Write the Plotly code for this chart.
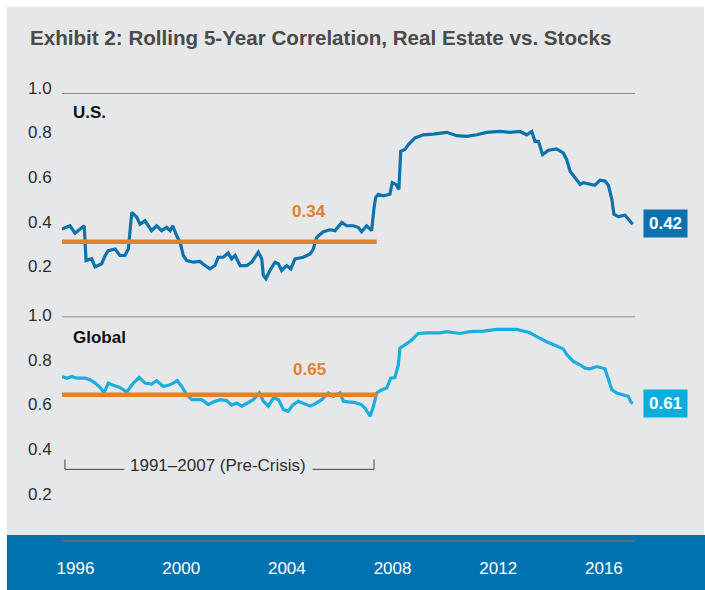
import plotly.graph_objects as go

# ---------------- data ----------------
us_years = [1995.48, 1995.79, 1995.98, 1996.23, 1996.33, 1996.40, 1996.61, 1996.74, 1996.99, 1997.12,
            1997.24, 1997.50, 1997.68, 1997.87, 1998.00, 1998.13, 1998.32, 1998.44, 1998.63, 1998.88,
            1999.07, 1999.26, 1999.45, 1999.58, 1999.68, 1999.83, 1999.96, 2000.08, 2000.21, 2000.46,
            2000.71, 2000.90, 2001.09, 2001.28, 2001.40, 2001.59, 2001.78, 2001.91, 2002.04, 2002.23,
            2002.48, 2002.67, 2002.92, 2003.05, 2003.11, 2003.21, 2003.36, 2003.55, 2003.68, 2003.80,
            2003.99, 2004.15, 2004.31, 2004.62, 2004.88, 2005.00, 2005.13, 2005.38, 2005.63, 2005.82,
            2006.08, 2006.26, 2006.51, 2006.70, 2006.83, 2007.02, 2007.21, 2007.30, 2007.36, 2007.46,
            2007.65, 2007.90, 2007.99, 2008.13, 2008.24, 2008.31, 2008.47, 2008.60, 2008.85, 2009.16,
            2009.54, 2010.05, 2010.43, 2010.81, 2011.19, 2011.56, 2012.07, 2012.45, 2012.82, 2013.08,
            2013.27, 2013.39, 2013.52, 2013.68, 2013.90, 2014.21, 2014.46, 2014.59, 2014.72, 2014.91,
            2015.10, 2015.22, 2015.47, 2015.66, 2015.85, 2016.04, 2016.17, 2016.30, 2016.38, 2016.55,
            2016.80, 2016.92, 2017.09]
us_corr = [0.391, 0.406, 0.373, 0.400, 0.406, 0.250, 0.258, 0.222, 0.236, 0.272,
           0.295, 0.302, 0.273, 0.273, 0.302, 0.466, 0.444, 0.413, 0.428, 0.384,
           0.406, 0.384, 0.399, 0.384, 0.406, 0.361, 0.332, 0.273, 0.250, 0.243,
           0.246, 0.228, 0.213, 0.228, 0.265, 0.265, 0.284, 0.258, 0.273, 0.228,
           0.228, 0.243, 0.288, 0.258, 0.184, 0.169, 0.206, 0.243, 0.236, 0.206,
           0.228, 0.213, 0.258, 0.265, 0.280, 0.302, 0.354, 0.379, 0.388, 0.384,
           0.421, 0.406, 0.406, 0.399, 0.379, 0.406, 0.384, 0.487, 0.532, 0.547,
           0.540, 0.547, 0.599, 0.591, 0.569, 0.739, 0.747, 0.769, 0.799, 0.813,
           0.816, 0.824, 0.809, 0.806, 0.813, 0.824, 0.828, 0.824, 0.828, 0.813,
           0.828, 0.784, 0.784, 0.724, 0.744, 0.750, 0.732, 0.702, 0.650, 0.621,
           0.591, 0.599, 0.591, 0.587, 0.610, 0.606, 0.587, 0.524, 0.458, 0.447,
           0.453, 0.436, 0.413]

gl_years = [1995.48, 1995.67, 1995.86, 1996.05, 1996.36, 1996.55, 1996.74, 1996.93, 1997.08, 1997.24,
            1997.43, 1997.68, 1997.94, 1998.19, 1998.41, 1998.63, 1998.88, 1999.07, 1999.32, 1999.51,
            1999.70, 1999.85, 2000.02, 2000.21, 2000.40, 2000.59, 2000.78, 2001.03, 2001.22, 2001.47,
            2001.72, 2001.91, 2002.10, 2002.29, 2002.48, 2002.73, 2002.96, 2003.11, 2003.30, 2003.49,
            2003.68, 2003.87, 2004.05, 2004.24, 2004.43, 2004.69, 2004.88, 2005.06, 2005.32, 2005.57,
            2005.76, 2006.01, 2006.14, 2006.33, 2006.58, 2006.83, 2006.96, 2007.15, 2007.27, 2007.40,
            2007.59, 2007.78, 2007.84, 2007.93, 2008.09, 2008.22, 2008.28, 2008.47, 2008.73, 2008.97,
            2009.29, 2009.80, 2010.05, 2010.55, 2010.93, 2011.44, 2011.94, 2012.70, 2012.95, 2013.20,
            2013.46, 2013.83, 2014.21, 2014.46, 2014.59, 2014.84, 2015.10, 2015.28, 2015.47, 2015.73,
            2016.04, 2016.17, 2016.30, 2016.48, 2016.80, 2016.92, 2017.02, 2017.09]
gl_corr = [0.732, 0.724, 0.732, 0.724, 0.724, 0.717, 0.702, 0.683, 0.658, 0.702,
           0.692, 0.683, 0.662, 0.702, 0.727, 0.702, 0.698, 0.713, 0.687, 0.692,
           0.702, 0.713, 0.687, 0.650, 0.628, 0.628, 0.628, 0.606, 0.618, 0.628,
           0.624, 0.603, 0.613, 0.599, 0.613, 0.628, 0.658, 0.621, 0.599, 0.636,
           0.628, 0.584, 0.576, 0.606, 0.621, 0.609, 0.599, 0.609, 0.628, 0.658,
           0.643, 0.658, 0.621, 0.618, 0.615, 0.605, 0.590, 0.554, 0.595, 0.658,
           0.672, 0.680, 0.695, 0.724, 0.727, 0.784, 0.858, 0.872, 0.895, 0.924,
           0.927, 0.927, 0.932, 0.924, 0.932, 0.935, 0.942, 0.942, 0.935, 0.927,
           0.910, 0.887, 0.868, 0.855, 0.831, 0.799, 0.784, 0.769, 0.766, 0.776,
           0.766, 0.724, 0.672, 0.658, 0.647, 0.643, 0.618, 0.610]

pre_crisis_span = [1995.49, 2007.40]
us_pre_mean = 0.335
gl_pre_mean = 0.65
us_mean_label = "0.34"
gl_mean_label = "0.65"
us_last_label = "0.42"
gl_last_label = "0.61"
us_last_value = 0.416
gl_last_value = 0.611
x_ticks = [1996, 2000, 2004, 2008, 2012, 2016]
y_ticks = [1.0, 0.8, 0.6, 0.4, 0.2]
title_text = "Exhibit 2: Rolling 5-Year Correlation, Real Estate vs. Stocks"
bracket_text = "1991\u20132007 (Pre-Crisis)"

# ---------------- styling ----------------
W, H = 705, 590
ML, MR, MT, MB = 62, 70, 93, 47
PW, PH = W - ML - MR, H - MT - MB
FONT = "Liberation Sans, Arial, sans-serif"
US_BLUE = "#0B72AF"
GL_BLUE = "#19AEDE"
ORANGE = "#E3802A"
BG_GRAY = "#E6E7E9"
BAND_BLUE = "#0072AF"
GRID = "#6E6E6E"
FS = 17

def px(x):
    return (x - ML) / PW

def py(y):
    return (H - MB - y) / PH

fig = go.Figure()

fig.add_trace(go.Scatter(x=us_years, y=us_corr, mode="lines",
                         line=dict(color=US_BLUE, width=3.2), xaxis="x", yaxis="y",
                         hoverinfo="skip", showlegend=False))
fig.add_trace(go.Scatter(x=gl_years, y=gl_corr, mode="lines",
                         line=dict(color=GL_BLUE, width=3.2), xaxis="x", yaxis="y2",
                         hoverinfo="skip", showlegend=False))
fig.add_trace(go.Scatter(x=pre_crisis_span, y=[us_pre_mean, us_pre_mean], mode="lines",
                         line=dict(color=ORANGE, width=4.5), xaxis="x", yaxis="y",
                         hoverinfo="skip", showlegend=False))
fig.add_trace(go.Scatter(x=pre_crisis_span, y=[gl_pre_mean, gl_pre_mean], mode="lines",
                         line=dict(color=ORANGE, width=4.5), xaxis="x", yaxis="y2",
                         hoverinfo="skip", showlegend=False))

shapes = [
    dict(type="rect", xref="paper", yref="paper", x0=px(7), x1=px(704), y0=py(538), y1=py(6),
         fillcolor=BG_GRAY, line=dict(width=0), layer="below"),
    dict(type="rect", xref="paper", yref="paper", x0=px(7), x1=px(705), y0=py(600), y1=py(538),
         fillcolor=BAND_BLUE, line=dict(width=0), layer="below"),
    dict(type="line", xref="paper", yref="y", x0=0, x1=1, y0=1, y1=1,
         line=dict(color=GRID, width=1.5)),
    dict(type="line", xref="paper", yref="y2", x0=0, x1=1, y0=1, y1=1,
         line=dict(color=GRID, width=1.5)),
    # bracket
    dict(type="line", xref="x", yref="y2", x0=1995.60, x1=1995.60, y0=0.316, y1=0.36,
         line=dict(color="#444", width=1)),
    dict(type="line", xref="x", yref="y2", x0=1995.60, x1=1997.85, y0=0.316, y1=0.316,
         line=dict(color="#444", width=1)),
    dict(type="line", xref="x", yref="y2", x0=2004.97, x1=2007.30, y0=0.316, y1=0.316,
         line=dict(color="#444", width=1)),
    dict(type="line", xref="x", yref="y2", x0=2007.30, x1=2007.30, y0=0.316, y1=0.36,
         line=dict(color="#444", width=1)),
]

ann = []
ann.append(dict(text="<b>" + title_text + "</b>", xref="paper", yref="paper", x=px(28), y=py(37),
                xanchor="left", yanchor="middle", showarrow=False,
                font=dict(family=FONT, size=20.6, color="#4A4A48")))
for yref, shift in (("y", 5), ("y2", 1)):
    for t in y_ticks:
        ann.append(dict(text=f"{t:.1f}", xref="paper", yref=yref, x=px(54), y=t, yshift=shift,
                        xanchor="right", yanchor="middle", showarrow=False,
                        font=dict(family=FONT, size=FS, color="#2E2E2E")))
ann.append(dict(text="<b>U.S.</b>", xref="x", yref="y", x=1995.83, y=0.911, xanchor="left",
                yanchor="middle", showarrow=False, font=dict(family=FONT, size=FS, color="#111")))
ann.append(dict(text="<b>Global</b>", xref="x", yref="y2", x=1995.83, y=0.907, xanchor="left",
                yanchor="middle", showarrow=False, font=dict(family=FONT, size=FS, color="#111")))
ann.append(dict(text="<b>" + us_mean_label + "</b>", xref="x", yref="y", x=2004.84, y=0.471,
                xanchor="center", yanchor="middle", showarrow=False,
                font=dict(family=FONT, size=FS, color=ORANGE)))
ann.append(dict(text="<b>" + gl_mean_label + "</b>", xref="x", yref="y2", x=2004.84, y=0.764,
                xanchor="center", yanchor="middle", showarrow=False,
                font=dict(family=FONT, size=FS, color=ORANGE)))
ann.append(dict(text=bracket_text, xref="x", yref="y2", x=2001.39, y=0.333,
                xanchor="center", yanchor="middle", showarrow=False,
                font=dict(family=FONT, size=FS, color="#2E2E2E")))
ann.append(dict(text="<b>" + us_last_label + "</b>", xref="paper", yref="y", x=px(665.5),
                y=us_last_value, xanchor="center", yanchor="middle", showarrow=False,
                bgcolor=US_BLUE, width=43, height=27, borderpad=0,
                font=dict(family=FONT, size=FS, color="white")))
ann.append(dict(text="<b>" + gl_last_label + "</b>", xref="paper", yref="y2", x=px(665.5),
                y=gl_last_value, xanchor="center", yanchor="middle", showarrow=False,
                bgcolor="#0AAEDC", width=43, height=27, borderpad=0,
                font=dict(family=FONT, size=FS, color="white")))

fig.update_layout(
    width=W, height=H,
    margin=dict(l=ML, r=MR, t=MT, b=MB),
    paper_bgcolor="white", plot_bgcolor="rgba(0,0,0,0)",
    xaxis=dict(range=[1995.489, 2017.177], anchor="y2", tickvals=x_ticks,
               ticktext=[str(v) for v in x_ticks], showgrid=False, zeroline=False,
               showline=True, linecolor="#5F6B75", linewidth=2, ticks="",
               tickfont=dict(family=FONT, size=FS, color="white"), ticklabelstandoff=12),
    yaxis=dict(domain=[0.5, 1.0], range=[0, 1], showgrid=False, zeroline=False,
               showticklabels=False, ticks=""),
    yaxis2=dict(domain=[0.0, 0.5], range=[0, 1], showgrid=False, zeroline=False,
                showticklabels=False, ticks=""),
    shapes=shapes, annotations=ann,
)

fig.write_html("out.html", config={"displayModeBar": False},
               post_script="document.body.style.margin='0';")
